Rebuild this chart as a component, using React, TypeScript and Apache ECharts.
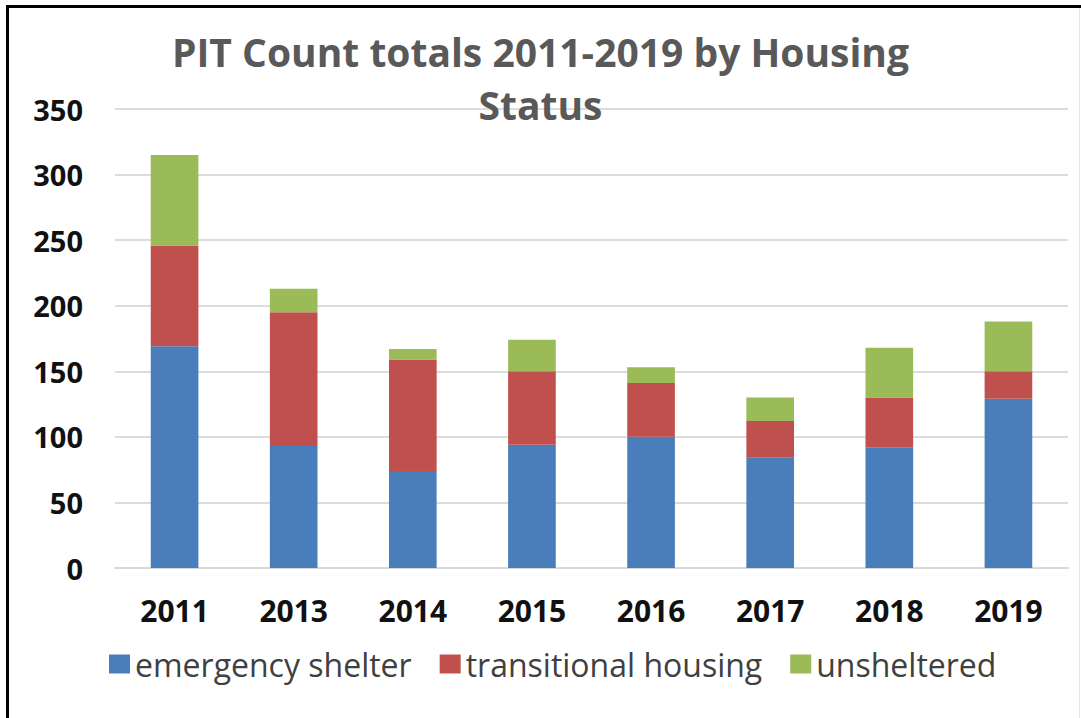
import React, { useEffect, useRef } from "react";
import * as echarts from "echarts";

const years = ["2011", "2013", "2014", "2015", "2016", "2017", "2018", "2019"];
const emergencyShelter = [169, 93, 74, 94, 100, 84, 92, 129];
const transitionalHousing = [77, 102, 85, 56, 41, 28, 38, 21];
const unsheltered = [69, 18, 8, 24, 12, 18, 38, 38];
const seriesNames = ["emergency shelter", "transitional housing", "unsheltered"];
const colors = ["#4a7ebb", "#c0504d", "#9bbb59"];

const FONT = "'Open Sans', sans-serif";

export default function App() {
  const ref = useRef<HTMLDivElement>(null);
  useEffect(() => {
    if (!ref.current) return;
    const chart = echarts.init(ref.current, undefined, { renderer: "svg" });
    const data = [emergencyShelter, transitionalHousing, unsheltered];
    chart.setOption({
      animation: false,
      backgroundColor: "#ffffff",
      title: {
        text: "PIT Count totals 2011-2019 by Housing\nStatus",
        left: "center",
        top: 25,
        padding: [0, 0, 0, 24],
        textStyle: {
          fontFamily: FONT,
          fontWeight: "bold",
          fontSize: 39,
          color: "#595959",
          lineHeight: 53,
        },
      },
      legend: {
        left: 104,
        top: 643,
        itemWidth: 21,
        itemHeight: 19,
        itemGap: 28,
        icon: "rect",
        data: seriesNames,
        textStyle: { fontFamily: FONT, fontSize: 32, color: "#404040" },
      },
      grid: { left: 115, right: 13, top: 109, bottom: 150, containLabel: false },
      xAxis: {
        type: "category",
        data: years,
        axisLine: { lineStyle: { color: "#d9d9d9", width: 2 } },
        axisTick: { show: false },
        axisLabel: {
          margin: 27,
          fontFamily: FONT,
          fontWeight: "bold",
          fontSize: 30,
          color: "#111111",
        },
      },
      yAxis: {
        type: "value",
        min: 0,
        max: 350,
        interval: 50,
        axisLine: { show: false },
        axisTick: { show: false },
        splitLine: { lineStyle: { color: "#dcdcdc", width: 2 } },
        axisLabel: {
          margin: 32,
          fontFamily: FONT,
          fontWeight: "bold",
          fontSize: 29,
          color: "#111111",
        },
      },
      series: seriesNames.map((name, i) => ({
        name,
        type: "bar",
        stack: "total",
        barWidth: "40%",
        data: data[i],
        itemStyle: { color: colors[i] },
      })),
      graphic: [
        { type: "line", shape: { x1: 7.5, y1: 5, x2: 7.5, y2: 718 }, style: { stroke: "#000", lineWidth: 3 } },
        { type: "line", shape: { x1: 6, y1: 6.5, x2: 1081, y2: 6.5 }, style: { stroke: "#000", lineWidth: 3 } },
        { type: "line", shape: { x1: 1079.5, y1: 8, x2: 1079.5, y2: 718 }, style: { stroke: "#e6e6e6", lineWidth: 1 } },
      ],
    });
    return () => chart.dispose();
  }, []);
  return (
    <div
      ref={ref}
      style={{ position: "fixed", left: 0, top: 0, width: 1081, height: 718 }}
    />
  );
}
